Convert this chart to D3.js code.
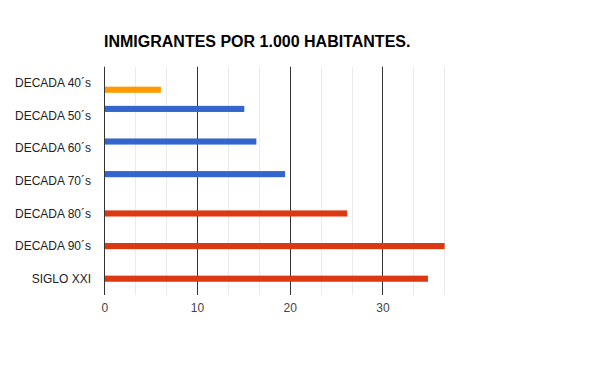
<!DOCTYPE html>
<html>
<head>
<meta charset="utf-8">
<script src="https://cdn.jsdelivr.net/npm/d3@7"></script>
<style>
  html, body { margin: 0; padding: 0; background: #ffffff; }
  svg { display: block; }
</style>
</head>
<body>
<svg id="chart" width="608" height="376"></svg>
<script>
const title = "INMIGRANTES POR 1.000 HABITANTES.";
const categories = ["DECADA 40´s", "DECADA 50´s", "DECADA 60´s", "DECADA 70´s", "DECADA 80´s", "DECADA 90´s", "SIGLO XXI"];
// three series (Google-style grouping: blue, red, orange)
const seriesBlue   = [null, 15.1, 16.4, 19.5, null, null, null];
const seriesRed    = [null, null, null, null, 26.2, 36.7, 34.9];
const seriesOrange = [6.1, null, null, null, null, null, null];
const seriesColors = ["#3366cc", "#dc3912", "#ff9900"];
const tickValues = [0, 10, 20, 30];
const minorTicks = [3.333, 6.667, 13.333, 16.667, 23.333, 26.667, 33.333, 36.667];

(function () {
const svg = d3.select("#chart");
const font = "Arial, 'Liberation Sans', sans-serif";

const pLeft = 104.3, pRight = 444.6, pTop = 66.7, pBottom = 295;
const x = d3.scaleLinear().domain([0, 36.7]).range([pLeft, pRight]);
const y = d3.scaleBand().domain(categories).range([pTop, pBottom]).paddingInner(0).paddingOuter(0);
const groupFrac = 0.618;
const series = [seriesBlue, seriesRed, seriesOrange];
const ys = d3.scaleBand().domain([0, 1, 2]).range([0, y.bandwidth() * groupFrac]);

// minor gridlines
svg.append("g").selectAll("line").data(minorTicks).join("line")
  .attr("x1", d => Math.round(x(d)) + 0.5).attr("x2", d => Math.round(x(d)) + 0.5)
  .attr("y1", pTop).attr("y2", pBottom)
  .attr("stroke", "#ebebeb").attr("stroke-width", 1);

// major gridlines
svg.append("g").selectAll("line").data(tickValues.slice(1)).join("line")
  .attr("x1", d => Math.round(x(d)) + 0.5).attr("x2", d => Math.round(x(d)) + 0.5)
  .attr("y1", pTop).attr("y2", pBottom)
  .attr("stroke", "#333333").attr("stroke-width", 1);

// bars
const gBars = svg.append("g");
series.forEach((s, si) => {
  gBars.selectAll(null).data(categories.map((c, i) => ({ c, v: s[i] })).filter(d => d.v != null))
    .join("rect")
    .attr("x", x(0))
    .attr("y", d => y(d.c) + y.bandwidth() * (1 - groupFrac) / 2 + ys(si) + 0.3)
    .attr("width", d => x(d.v) - x(0))
    .attr("height", ys.bandwidth() - 0.6)
    .attr("fill", seriesColors[si]);
});

// baseline axis at 0
svg.append("line")
  .attr("x1", Math.round(x(0)) + 0.5).attr("x2", Math.round(x(0)) + 0.5)
  .attr("y1", pTop).attr("y2", pBottom)
  .attr("stroke", "#333333").attr("stroke-width", 1);

// category labels
svg.append("g").selectAll("text").data(categories).join("text")
  .attr("x", 91).attr("y", d => y(d) + y.bandwidth() / 2)
  .attr("dy", "0.35em").attr("text-anchor", "end")
  .attr("font-family", font).attr("font-size", 12).attr("fill", "#222222")
  .text(d => d);

// x tick labels
const xAxis = d3.axisBottom(x).tickValues(tickValues).tickSize(0).tickPadding(0);
const gx = svg.append("g").attr("transform", `translate(0, ${pBottom})`).call(xAxis);
gx.select(".domain").remove();
gx.selectAll("text")
  .attr("y", 13).attr("dy", "0.35em")
  .attr("font-family", font).attr("font-size", 12).attr("fill", "#444444");

// title
svg.append("text")
  .attr("x", 104).attr("y", 46.7)
  .attr("font-family", font).attr("font-size", 16).attr("font-weight", "bold")
  .attr("fill", "#000000")
  .text(title);
})();
</script>
</body>
</html>
